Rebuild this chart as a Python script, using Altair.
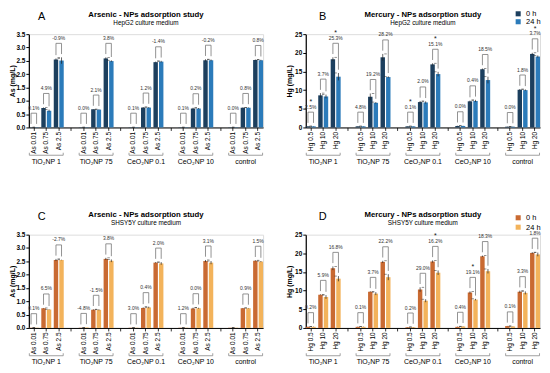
import altair as alt
import pandas as pd

groups = ["TiO₂NP 1", "TiO₂NP 75", "CeO₂NP 0.1", "CeO₂NP 10", "control"]
as_levels = ["As 0.01", "As 0.75", "As 2.5"]
hg_levels = ["Hg 0.5", "Hg 10", "Hg 20"]
times = ["0 h", "24 h"]
as_ticks = [0.0, 0.5, 1.0, 1.5, 2.0, 2.5, 3.0, 3.5]
hg_ticks = [0, 5, 10, 15, 20, 25]

# Panel A: Arsenic, HepG2
a_0h = [0.01, 0.73, 2.55, 0.01, 0.68, 2.59, 0.01, 0.745, 2.45, 0.01, 0.71, 2.52, 0.01, 0.74, 2.53]
a_24h = [0.01, 0.63, 2.51, 0.01, 0.67, 2.49, 0.01, 0.745, 2.47, 0.01, 0.71, 2.52, 0.01, 0.74, 2.52]
a_e0 = [0.0, 0.02, 0.04, 0.0, 0.01, 0.04, 0.0, 0.02, 0.02, 0.0, 0.03, 0.04, 0.0, 0.01, 0.02]
a_e24 = [0.0, 0.04, 0.12, 0.0, 0.01, 0.03, 0.0, 0.02, 0.03, 0.0, 0.02, 0.03, 0.0, 0.01, 0.02]
a_pct = ["0.1%", "4.9%", "-0.9%", "0.0%", "2.1%", "3.8%", "0.1%", "1.2%", "-1.4%",
         "0.1%", "0.2%", "-0.2%", "0.0%", "0.8%", "0.8%"]
a_star = [0, 0, 0, 0, 0, 0, 0, 0, 0, 0, 0, 0, 0, 0, 0]

# Panel B: Mercury, HepG2
b_0h = [0.3, 8.6, 18.3, 0.3, 8.2, 18.8, 0.3, 6.8, 16.9, 0.4, 7.0, 15.6, 0.2, 10.1, 19.7]
b_24h = [0.3, 8.3, 13.6, 0.3, 6.6, 13.5, 0.3, 6.7, 14.3, 0.4, 7.1, 12.7, 0.2, 10.0, 19.0]
b_e0 = [0.05, 0.6, 0.5, 0.05, 0.9, 0.9, 0.05, 0.3, 0.3, 0.05, 0.2, 0.2, 0.05, 0.2, 0.3]
b_e24 = [0.05, 0.5, 1.0, 0.05, 0.2, 0.2, 0.05, 0.3, 0.6, 0.05, 0.3, 0.9, 0.05, 0.2, 0.3]
b_pct = ["2.5%", "3.7%", "25.3%", "4.8%", "19.2%", "28.2%", "0.1%", "2.0%", "15.1%",
         "0.0%", "0.4%", "18.5%", "0.0%", "1.8%", "3.7%"]
b_star = [1, 0, 1, 0, 0, 0, 1, 0, 1, 0, 0, 0, 0, 0, 1]

# Panel C: Arsenic, SHSY5Y
c_0h = [0.01, 0.74, 2.55, 0.01, 0.68, 2.59, 0.01, 0.75, 2.45, 0.01, 0.73, 2.51, 0.01, 0.74, 2.52]
c_24h = [0.01, 0.69, 2.55, 0.02, 0.68, 2.52, 0.01, 0.77, 2.42, 0.01, 0.74, 2.45, 0.01, 0.74, 2.49]
c_e0 = [0.0, 0.01, 0.04, 0.0, 0.02, 0.04, 0.0, 0.02, 0.02, 0.0, 0.03, 0.04, 0.0, 0.01, 0.02]
c_e24 = [0.0, 0.01, 0.01, 0.0, 0.02, 0.05, 0.0, 0.03, 0.05, 0.0, 0.02, 0.06, 0.0, 0.01, 0.02]
c_pct = ["0.1%", "6.5%", "-2.7%", "-4.8%", "-1.5%", "3.8%", "3.0%", "0.4%", "2.0%",
         "1.2%", "0.0%", "3.1%", "", "0.9%", "1.5%"]
c_star = [0, 0, 0, 0, 0, 0, 0, 0, 0, 0, 0, 0, 0, 0, 0]

# Panel D: Mercury, SHSY5Y
d_0h = [0.3, 8.9, 16.0, 0.3, 9.7, 17.7, 0.2, 10.3, 17.8, 0.3, 9.5, 19.2, 0.5, 9.7, 20.1]
d_24h = [0.3, 8.3, 13.2, 0.3, 9.2, 13.6, 0.2, 7.3, 14.8, 0.4, 7.6, 15.2, 0.4, 9.4, 19.7]
d_e0 = [0.05, 0.1, 0.5, 0.05, 0.1, 0.3, 0.05, 0.6, 0.3, 0.05, 0.3, 0.2, 0.05, 0.3, 0.2]
d_e24 = [0.05, 0.5, 0.7, 0.05, 0.4, 0.8, 0.05, 0.4, 0.6, 0.05, 0.2, 0.6, 0.05, 0.4, 0.5]
d_pct = ["0.2%", "5.9%", "16.8%", "0.1%", "3.7%", "22.2%", "0.2%", "29.0%", "16.2%",
         "0.4%", "19.1%", "18.3%", "0.1%", "3.3%", "1.8%"]
d_star = [0, 0, 0, 0, 0, 0, 0, 0, 1, 0, 1, 0, 0, 0, 0]

blue_colors = ["#1c3f5e", "#2b7bba"]
orange_colors = ["#c96a32", "#f3b35b"]

W, H = 236, 94
FONT = "Liberation Sans"
BP0, BP1 = 0.222, 0.778


def panel(letter, letter_x, title, subtitle, levels, v0, v24, e0, e24, pct, star,
          ymax, yticks, yfmt, ytitle, colors, legend_y):
    keys = []
    rows, brk, grp = [], [], []
    for gi, g in enumerate(groups):
        gkeys = [f"{g}|{lv}" for lv in levels]
        keys += gkeys
        if gi < len(groups) - 1:
            keys.append(f"gap{gi}")
        grp.append(dict(group=g, first=gkeys[0], mid=gkeys[1], last=gkeys[2]))
        for li, lv in enumerate(levels):
            i = gi * 3 + li
            k = gkeys[li]
            rows.append(dict(slot=k, time="0 h", value=v0[i], lo=v0[i] - e0[i], hi=v0[i] + e0[i]))
            rows.append(dict(slot=k, time="24 h", value=v24[i], lo=v24[i] - e24[i], hi=v24[i] + e24[i]))
            if pct[i]:
                m = max(v0[i] + e0[i], v24[i] + e24[i])
                brk.append(dict(slot=k, top=m + 0.15 * ymax,
                                leg0=v0[i] + e0[i] + 0.035 * ymax,
                                leg24=v24[i] + e24[i] + 0.035 * ymax,
                                pct=pct[i], star=star[i]))
    bars_df = pd.DataFrame(rows)
    brk_df = pd.DataFrame(brk)
    grp_df = pd.DataFrame(grp)

    xscale = alt.Scale(domain=keys, paddingInner=0.2, paddingOuter=0)
    xaxis = alt.Axis(title=None, labelAngle=-90,
                     labelExpr="indexof(datum.value, '|') < 0 ? '' : split(datum.value, '|')[1]",
                     labelFontSize=6.5, labelPadding=1, tickSize=3, domainColor="black",
                     tickColor="black", labelColor="black", domainWidth=1, tickWidth=0.8,
                     labelBaseline="middle", labelAlign="right", labelOverlap=False,
                     labelFont=FONT)
    yscale = alt.Scale(domain=[0, ymax], nice=False, zero=True)
    yaxis = alt.Axis(values=yticks, format=yfmt, title=ytitle, labelFontSize=6.5,
                     labelFontWeight="bold", titleFontSize=7, titleFontWeight="bold",
                     tickSize=3, labelPadding=1, titlePadding=1, minExtent=12, maxExtent=12,
                     domainColor="black", tickColor="black", labelColor="black",
                     titleColor="black", grid=False, domainWidth=1.2, labelFont=FONT,
                     titleFont=FONT)
    cscale = alt.Scale(domain=times, range=colors)

    def X(field, bp=None):
        if bp is None:
            return alt.X(f"{field}:N", scale=xscale, axis=xaxis)
        return alt.X(f"{field}:N", scale=xscale, axis=xaxis, bandPosition=bp)

    def Y(field):
        return alt.Y(f"{field}:Q", scale=yscale, axis=yaxis)

    bars = alt.Chart(bars_df).mark_bar().encode(
        x=X("slot"),
        xOffset=alt.XOffset("time:N", scale=alt.Scale(domain=times, paddingInner=0.2, paddingOuter=0)),
        y=Y("value"),
        color=alt.Color("time:N", scale=cscale, legend=None),
    )
    layers = [bars]
    for t, bp in zip(times, [BP0, BP1]):
        base = alt.Chart(bars_df).transform_filter(alt.datum.time == t)
        layers.append(base.mark_rule(color="#222", strokeWidth=0.7).encode(
            x=X("slot", bp), y=Y("lo"), y2="hi"))
        layers.append(base.mark_tick(color="#222", thickness=0.7, size=2.5).encode(
            x=X("slot", bp), y=Y("hi")))
    bcol = "#777"
    layers.append(alt.Chart(brk_df).mark_rule(color=bcol, strokeWidth=0.8).encode(
        x=X("slot", BP0), y=Y("leg0"), y2="top"))
    layers.append(alt.Chart(brk_df).mark_rule(color=bcol, strokeWidth=0.8).encode(
        x=X("slot", BP1), y=Y("leg24"), y2="top"))
    layers.append(alt.Chart(brk_df).mark_rule(color=bcol, strokeWidth=0.8).encode(
        x=X("slot", BP0), x2=alt.X2("slot", bandPosition=BP1), y=Y("top")))
    layers.append(alt.Chart(brk_df).mark_text(fontSize=5, dy=-2.5, baseline="bottom",
                                              color="#333", font=FONT).encode(
        x=X("slot", 0.5), y=Y("top"), text="pct:N"))
    layers.append(alt.Chart(brk_df).transform_filter(alt.datum.star == 1).mark_text(
        fontSize=7, dy=-7, baseline="bottom", color="#111", font=FONT).encode(
        x=X("slot", 0.5), y=Y("top"), text=alt.value("*")))
    # group brackets under the axis labels
    gcol = "#888"
    layers.append(alt.Chart(grp_df).mark_rule(color=gcol, strokeWidth=0.8).encode(
        x=X("first", 0.05), x2=alt.X2("last", bandPosition=0.95), y=alt.value(H + 28)))
    layers.append(alt.Chart(grp_df).mark_rule(color=gcol, strokeWidth=0.8).encode(
        x=X("first", 0.05), y=alt.value(H + 25.5), y2=alt.value(H + 28)))
    layers.append(alt.Chart(grp_df).mark_rule(color=gcol, strokeWidth=0.8).encode(
        x=X("last", 0.95), y=alt.value(H + 25.5), y2=alt.value(H + 28)))
    layers.append(alt.Chart(grp_df).mark_text(fontSize=7, baseline="top", color="black",
                                              font=FONT).encode(
        x=X("mid", 0.5), y=alt.value(H + 30.5), text="group:N"))
    head_df = pd.DataFrame({"letter": [letter], "title": [title], "subtitle": [subtitle]})
    layers.append(alt.Chart(head_df).mark_text(
        fontSize=11, baseline="top", align="center", color="black", font=FONT).encode(
        x=alt.value(letter_x), y=alt.value(-23.5), text="letter:N"))
    layers.append(alt.Chart(head_df).mark_text(
        fontSize=7.8, fontWeight="bold", baseline="top", align="center", color="black",
        font=FONT).encode(x=alt.value(W / 2), y=alt.value(-23.5), text="title:N"))
    layers.append(alt.Chart(head_df).mark_text(
        fontSize=6.4, baseline="top", align="center", color="black",
        font=FONT).encode(x=alt.value(W / 2), y=alt.value(-14.5), text="subtitle:N"))
    # hand-built legend (0 h / 24 h)
    if legend_y is not None:
        leg_df = pd.DataFrame({"time": times})
        for t, ly in zip(times, legend_y):
            lb = alt.Chart(leg_df).transform_filter(alt.datum.time == t)
            layers.append(lb.mark_square(size=26, opacity=1).encode(
                x=alt.value(W - 22), y=alt.value(ly),
                color=alt.Color("time:N", scale=cscale, legend=None)))
            layers.append(lb.mark_text(fontSize=7.5, align="left", baseline="top",
                                       color="black", font=FONT).encode(
                x=alt.value(W - 14), y=alt.value(ly - 3.5), text="time:N"))

    return alt.layer(*layers).properties(width=W, height=H)


pA = panel("A", 13, "Arsenic - NPs adsorption study", "HepG2 culture medium", as_levels,
           a_0h, a_24h, a_e0, a_e24, a_pct, a_star, 3.5, as_ticks, ".1f", "As (mg/L)",
           blue_colors, None)
pB = panel("B", 17, "Mercury - NPs adsorption study", "HepG2 culture medium", hg_levels,
           b_0h, b_24h, b_e0, b_e24, b_pct, b_star, 25, hg_ticks, "d", "Hg (mg/L)",
           blue_colors, [-20.5, -12.5])
pC = panel("C", 13, "Arsenic - NPs adsorption study", "SHSY5Y culture medium", as_levels,
           c_0h, c_24h, c_e0, c_e24, c_pct, c_star, 3.5, as_ticks, ".1f", "As (mg/L)",
           orange_colors, None)
pD = panel("D", 17, "Mercury - NPs adsorption study", "SHSY5Y culture medium", hg_levels,
           d_0h, d_24h, d_e0, d_e24, d_pct, d_star, 25, hg_ticks, "d", "Hg (mg/L)",
           orange_colors, [-17, -7.5])

row1 = alt.hconcat(pA, pB, spacing=20).resolve_scale(color="independent", x="independent", y="independent")
row2 = alt.hconcat(pC, pD, spacing=20).resolve_scale(color="independent", x="independent", y="independent")
chart = alt.vconcat(row1, row2, spacing=46).resolve_scale(
    color="independent", x="independent", y="independent"
).properties(
    padding={"left": 0, "top": 0, "right": 0, "bottom": 0}, background="white"
).configure_view(stroke=None).configure(font=FONT)

chart.save("out.html", embed_options={"renderer": "svg", "actions": False})
